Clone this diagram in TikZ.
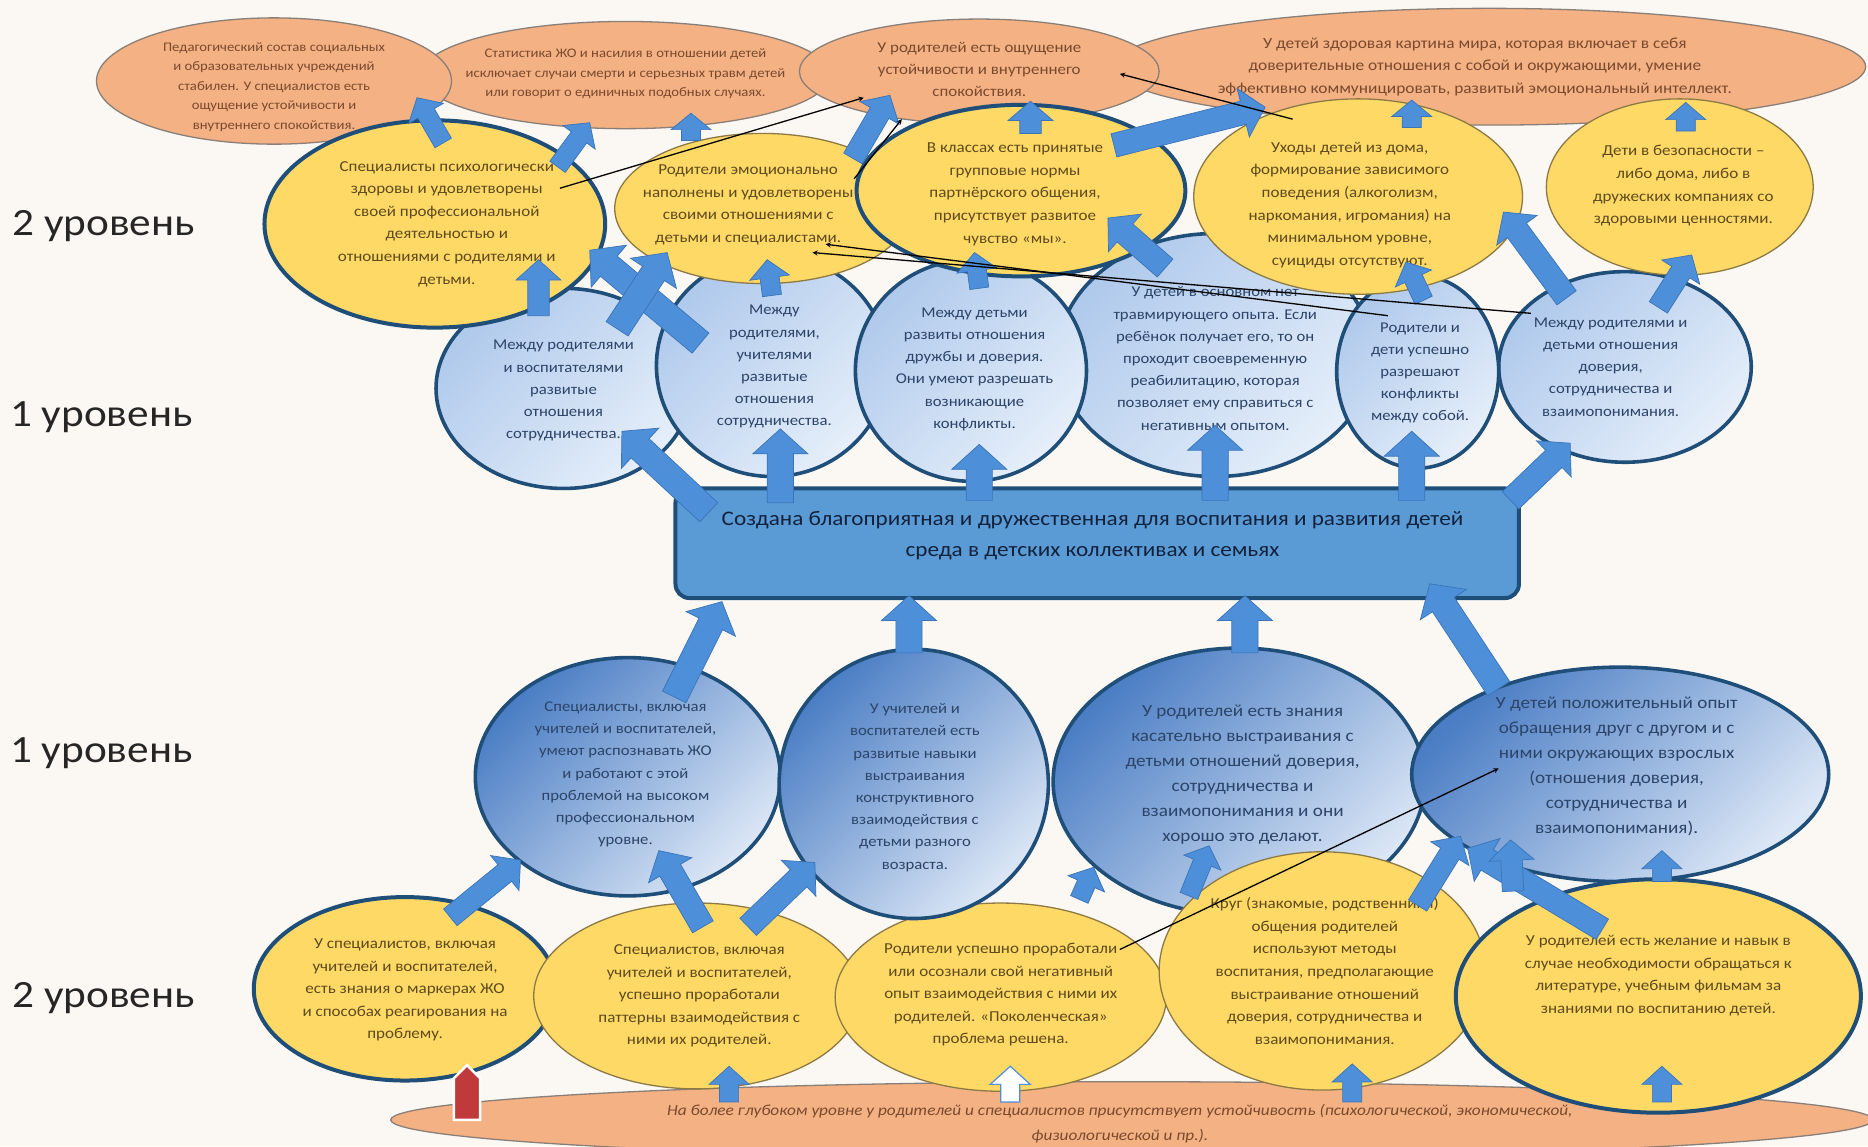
\documentclass[tikz,border=0pt]{standalone}
\usepackage{fontspec}
\setmainfont[FakeStretch=1.12]{Carlito}
\usetikzlibrary{calc,shapes.geometric}
\definecolor{bg}{HTML}{FBF8F3}
\definecolor{orF}{HTML}{F4B183}
\definecolor{orD}{HTML}{8A7F78}
\definecolor{orT}{HTML}{7A4A2E}
\definecolor{yeF}{HTML}{FFD966}
\definecolor{yeD}{HTML}{8C7A45}
\definecolor{yeT}{HTML}{5E4B1E}
\definecolor{navy}{HTML}{1F4E79}
\definecolor{buA}{HTML}{AFC9EC}
\definecolor{buB}{HTML}{E6EFFA}
\definecolor{blA}{HTML}{4A7DC4}
\definecolor{blB}{HTML}{DCE7F6}
\definecolor{buT}{HTML}{2C4468}
\definecolor{arF}{HTML}{4D8FD8}
\definecolor{arD}{HTML}{3A74B8}
\definecolor{boxF}{HTML}{5B9BD5}
\definecolor{boxT}{HTML}{12223C}
\definecolor{redA}{HTML}{C0393B}
\newcommand\barr[6][]{%
  \pgfmathsetmacro\bang{atan2(#3-#5,#4-#2)}%
  \pgfmathsetmacro\blen{veclen(#4-#2,#5-#3)}%
  \pgfmathsetmacro\bhl{min(1.9*#6,0.6*\blen)}%
  \begin{scope}[shift={(#2,#3)},rotate=\bang]
    \path[barrow,#1] (0,-#6) -- (\blen-\bhl,-#6) -- (\blen-\bhl,-2.1*#6) -- (\blen,0)
      -- (\blen-\bhl,2.1*#6) -- (\blen-\bhl,#6) -- (0,#6) -- cycle;
  \end{scope}}
\begin{document}
\begin{tikzpicture}[x=1.1913pt,y=-1.1913pt,
  sz/.style 2 args={minimum width={2*#1*1.1913pt},minimum height={2*#2*1.1913pt}},
  ell/.style={ellipse,inner sep=0pt,outer sep=0pt},
  orng/.style={ell,fill=orF,draw=orD,line width=1.3pt},
  yelthin/.style={ell,fill=yeF,draw=yeD,line width=1.3pt},
  yelthick/.style={ell,fill=yeF,draw=navy,line width=4pt},
  bluup/.style={ell,left color=buA,right color=buB,shading angle=45,draw=navy,line width=3.6pt},
  blulo/.style={ell,left color=blA,right color=blB,shading angle=45,draw=navy,line width=3.6pt},
  otext/.style={align=center,text=orT,font=\fontsize{13.1}{19.6}\selectfont},
  ytext/.style={align=center,text=yeT,font=\fontsize{15.2}{22.6}\selectfont},
  btext/.style={align=center,text=buT,font=\fontsize{14.9}{22.2}\selectfont},
  bigtext/.style={align=center,text=buT,font=\fontsize{17.1}{25}\selectfont},
  lvl/.style={text=black!85,font=\fontsize{38.6}{46}\selectfont},
  barrow/.style={fill=arF,draw=arD,line width=0.7pt},
  conn/.style={draw=black,line width=1.3pt,->,>=stealth}]
\useasboundingbox (0,0) rectangle (1568,962);
\fill[bg] (0,0) rectangle (1568,962);
% level labels
\node[lvl] (l2a) at (87,190) {2 уровень};
\node[lvl] (l1a) at (85,350) {1 уровень};
\node[lvl] (l1b) at (85,632) {1 уровень};
\node[lvl] (l2b) at (87,838) {2 уровень};
% ---------- top orange ----------
\node[orng,sz={172}{45}] (o2) at (525,63) {};
\node[otext] (o2t) at (525,62) {Статистика ЖО и насилия в отношении детей\\исключает случаи смерти и серьезных травм детей\\или говорит о единичных подобных случаях.};
\node[orng,sz={316}{49}] (o4) at (1250,56) {};
\node[otext,font=\fontsize{15.5}{22.6}\selectfont] (o4t) at (1238,56) {У детей здоровая картина мира, которая включает в себя\\доверительные отношения с собой и окружающими, умение\\эффективно коммуницировать, развитый эмоциональный интеллект.};
\node[orng,sz={149}{53}] (o1) at (230,68) {};
\node[otext] (o1t) at (230,73) {Педагогический состав социальных\\и образовательных учреждений\\стабилен. У специалистов есть\\ощущение устойчивости и\\внутреннего спокойствия.};
\node[orng,sz={151}{44}] (o3) at (822,60) {};
\node[otext,font=\fontsize{15.1}{22}\selectfont] (o3t) at (822,58) {У родителей есть ощущение\\устойчивости и внутреннего\\спокойствия.};
% ---------- upper blue row ----------
\node[bluup,sz={107}{84}] (b1) at (473,326) {};
\node[btext] (b1t) at (473,328) {Между родителями\\и воспитателями\\развитые\\отношения\\сотрудничества.};
\node[bluup,sz={132}{102}] (b4) at (1020,298) {};
\node[btext] (b4t) at (1020,301) {У детей в основном нет\\травмирующего опыта. Если\\ребёнок получает его, то он\\проходит своевременную\\реабилитацию, которая\\позволяет ему справиться с\\негативным опытом.};
\node[bluup,sz={106}{80}] (b6) at (1364,308) {};
\node[btext] (b6t) at (1352,308) {Между родителями и\\детьми отношения\\доверия,\\сотрудничества и\\взаимопонимания.};
\node[bluup,sz={97}{93}] (b2) at (648,307) {};
\node[btext] (b2t) at (650,308) {Между\\родителями,\\учителями\\развитые\\отношения\\сотрудничества.};
\node[bluup,sz={97}{93}] (b3) at (815,311) {};
\node[btext] (b3t) at (818,310) {Между детьми\\развиты отношения\\дружбы и доверия.\\Они умеют разрешать\\возникающие\\конфликты.};
\node[bluup,sz={68}{81}] (b5) at (1190,312) {};
\node[btext] (b5t) at (1192,313) {Родители и\\дети успешно\\разрешают\\конфликты\\между собой.};
% ---------- upper yellow row ----------
\node[yelthin,sz={124}{63}] (y2) at (640,175) {};
\node[ytext] (y2t) at (628,172) {Родители эмоционально\\наполнены и удовлетворены\\своими отношениями с\\детьми и специалистами.};
\node[yelthick,sz={143}{87}] (y1) at (365,188) {};
\node[ytext] (y1t) at (375,188) {Специалисты психологически\\здоровы и удовлетворены\\своей профессиональной\\деятельностью и\\отношениями с родителями и\\детьми.};
\node[yelthick,sz={138}{72}] (y3) at (857,160) {};
\node[ytext] (y3t) at (852,163) {В классах есть принятые\\групповые нормы\\партнёрского общения,\\присутствует развитое\\чувство «мы».};
\node[yelthin,sz={138}{82}] (y4) at (1140,165) {};
\node[ytext] (y4t) at (1133,172) {Уходы детей из дома,\\формирование зависимого\\поведения (алкоголизм,\\наркомания, игромания) на\\минимальном уровне,\\суициды отсутствуют.};
\node[yelthin,sz={112}{74}] (y5) at (1410,157) {};
\node[ytext] (y5t) at (1413,156) {Дети в безопасности –\\либо дома, либо в\\дружеских компаниях со\\здоровыми ценностями.};
% ---------- central box ----------
\node[draw=navy,fill=boxF,line width=4pt,rounded corners=14pt,minimum width={708*1.1913pt},minimum height={92*1.1913pt},inner sep=0pt] (box) at (921,456) {};
\node[align=center,text=boxT,font=\fontsize{20.7}{31}\selectfont] (boxt) at (917,450) {Создана благоприятная и дружественная для воспитания и развития детей\\среда в детских коллективах и семьях};
% ---------- bottom orange ----------
\node[orng,sz={622}{32}] (o5) at (950,940) {};
\node[otext,font=\fontsize{15.4}{25}\selectfont\itshape] (o5t) at (940,943) {На более глубоком уровне у родителей и специалистов присутствует устойчивость (психологической, экономической,\\физиологической и пр.).};
% ---------- bottom yellow (left part) ----------
\node[yelthick,sz={127}{77}] (y6) at (340,830) {};
\node[ytext] (y6t) at (340,831) {У специалистов, включая\\учителей и воспитателей,\\есть знания о маркерах ЖО\\и способах реагирования на\\проблему.};
\node[yelthin,sz={137}{78}] (y7) at (585,836) {};
\node[ytext] (y7t) at (587,836) {Специалистов, включая\\учителей и воспитателей,\\успешно проработали\\паттерны взаимодействия с\\ними их родителей.};
\node[yelthin,sz={139}{79}] (y8) at (840,837) {};
\node[ytext] (y8t) at (840,835) {Родители успешно проработали\\или осознали свой негативный\\опыт взаимодействия с ними их\\родителей. «Поколенческая»\\проблема решена.};
% ---------- lower blue row ----------
\node[blulo,sz={128}{100}] (l1) at (527,652) {};
\node[btext] (l1t) at (525,650) {Специалисты, включая\\учителей и воспитателей,\\умеют распознавать ЖО\\и работают с этой\\проблемой на высоком\\профессиональном\\уровне.};
\node[blulo,sz={113}{113}] (l2) at (767,658) {};
\node[btext] (l2t) at (768,661) {У учителей и\\воспитателей есть\\развитые навыки\\выстраивания\\конструктивного\\взаимодействия с\\детьми разного\\возраста.};
\node[blulo,sz={156}{112}] (l3) at (1040,656) {};
\node[bigtext] (l3t) at (1043,650) {У родителей есть знания\\касательно выстраивания с\\детьми отношений доверия,\\сотрудничества и\\взаимопонимания и они\\хорошо это делают.};
\node[blulo,sz={175}{90}] (l4) at (1360,650) {};
\node[bigtext] (l4t) at (1357,643) {У детей положительный опыт\\обращения друг с другом и с\\ними окружающих взрослых\\(отношения доверия,\\сотрудничества и\\взаимопонимания).};
% ---------- bottom yellow (right part) ----------
\node[yelthin,sz={137}{100}] (y9) at (1110,815) {};
\node[ytext] (y9t) at (1112,815) {Круг (знакомые, родственники)\\общения родителей\\используют методы\\воспитания, предполагающие\\выстраивание отношений\\доверия, сотрудничества и\\взаимопонимания.};
\node[yelthick,sz={170}{98}] (y10) at (1392,836) {};
\node[ytext,font=\fontsize{15.2}{22.6}\selectfont] (y10t) at (1392,819) {У родителей есть желание и навык в\\случае необходимости обращаться к\\литературе, учебным фильмам за\\знаниями по воспитанию детей.};
% ---------- block arrows ----------
\barr{372}{120}{350}{82}{8}
\barr{468}{140}{495}{103}{8}
\barr{580}{118}{580}{95}{8}
\barr{716}{133}{747}{80}{9}
\barr{865}{112}{865}{85}{9}
\barr{935}{122}{1062}{90}{10}
\barr{1185}{107}{1185}{84}{8}
\barr{1415}{110}{1415}{86}{8}
\barr{452}{265}{452}{218}{9}
\barr{588}{288}{495}{210}{11}
\barr{518}{276}{560}{212}{11}
\barr{648}{248}{644}{218}{8}
\barr{822}{242}{818}{212}{8}
\barr{978}{225}{930}{183}{10}
\barr{1195}{252}{1180}{220}{8}
\barr{1315}{250}{1262}{178}{10}
\barr{1392}{258}{1420}{214}{9}
\barr{595}{430}{522}{362}{11}
\barr{655}{422}{655}{360}{11}
\barr{822}{420}{822}{373}{11}
\barr{1020}{420}{1020}{357}{11}
\barr{1185}{420}{1185}{362}{11}
\barr{1268}{420}{1318}{372}{10}
\barr{566}{585}{606}{505}{11}
\barr{763}{548}{763}{500}{11}
\barr{1045}{548}{1045}{500}{11}
\barr{1258}{578}{1200}{490}{11}
\barr{378}{770}{437}{722}{9}
\barr{590}{778}{553}{714}{10}
\barr{628}{778}{684}{724}{10}
\barr{906}{755}{918}{728}{8}
\barr{998}{752}{1015}{710}{8}
\barr{1190}{760}{1226}{702}{9}
\barr{1345}{780}{1232}{712}{10}
\barr{1270}{748}{1268}{705}{9}
\barr{1395}{740}{1395}{714}{8}
\barr{612}{925}{612}{895}{8}
\barr[fill=white,draw=arF,line width=1.2pt]{848}{925}{848}{895}{8}
\barr{1135}{925}{1135}{893}{8}
\barr{1395}{925}{1395}{895}{8}
\fill[redA,draw=white,line width=2.5pt] (381,940) -- (381,905) -- (392,894) -- (403,905) -- (403,940) -- cycle;
% ---------- thin connectors ----------
\coordinate (ca1) at (470,158); \coordinate (ca2) at (725,82);
\coordinate (cb1) at (717,150); \coordinate (cb2) at (757,100);
\coordinate (cc1) at (1085,100); \coordinate (cc2) at (940,62);
\coordinate (cd1) at (1165,265); \coordinate (cd2) at (693,205);
\coordinate (ce1) at (1285,263); \coordinate (ce2) at (682,212);
\coordinate (cf1) at (940,797); \coordinate (cf2) at (1258,645);
\draw[conn] (ca1) -- (ca2);
\draw[conn] (cb1) -- (cb2);
\draw[conn] (cc1) -- (cc2);
\draw[conn] (cd1) -- (cd2);
\draw[conn] (ce1) -- (ce2);
\draw[conn] (cf1) -- (cf2);
\end{tikzpicture}
\end{document}
